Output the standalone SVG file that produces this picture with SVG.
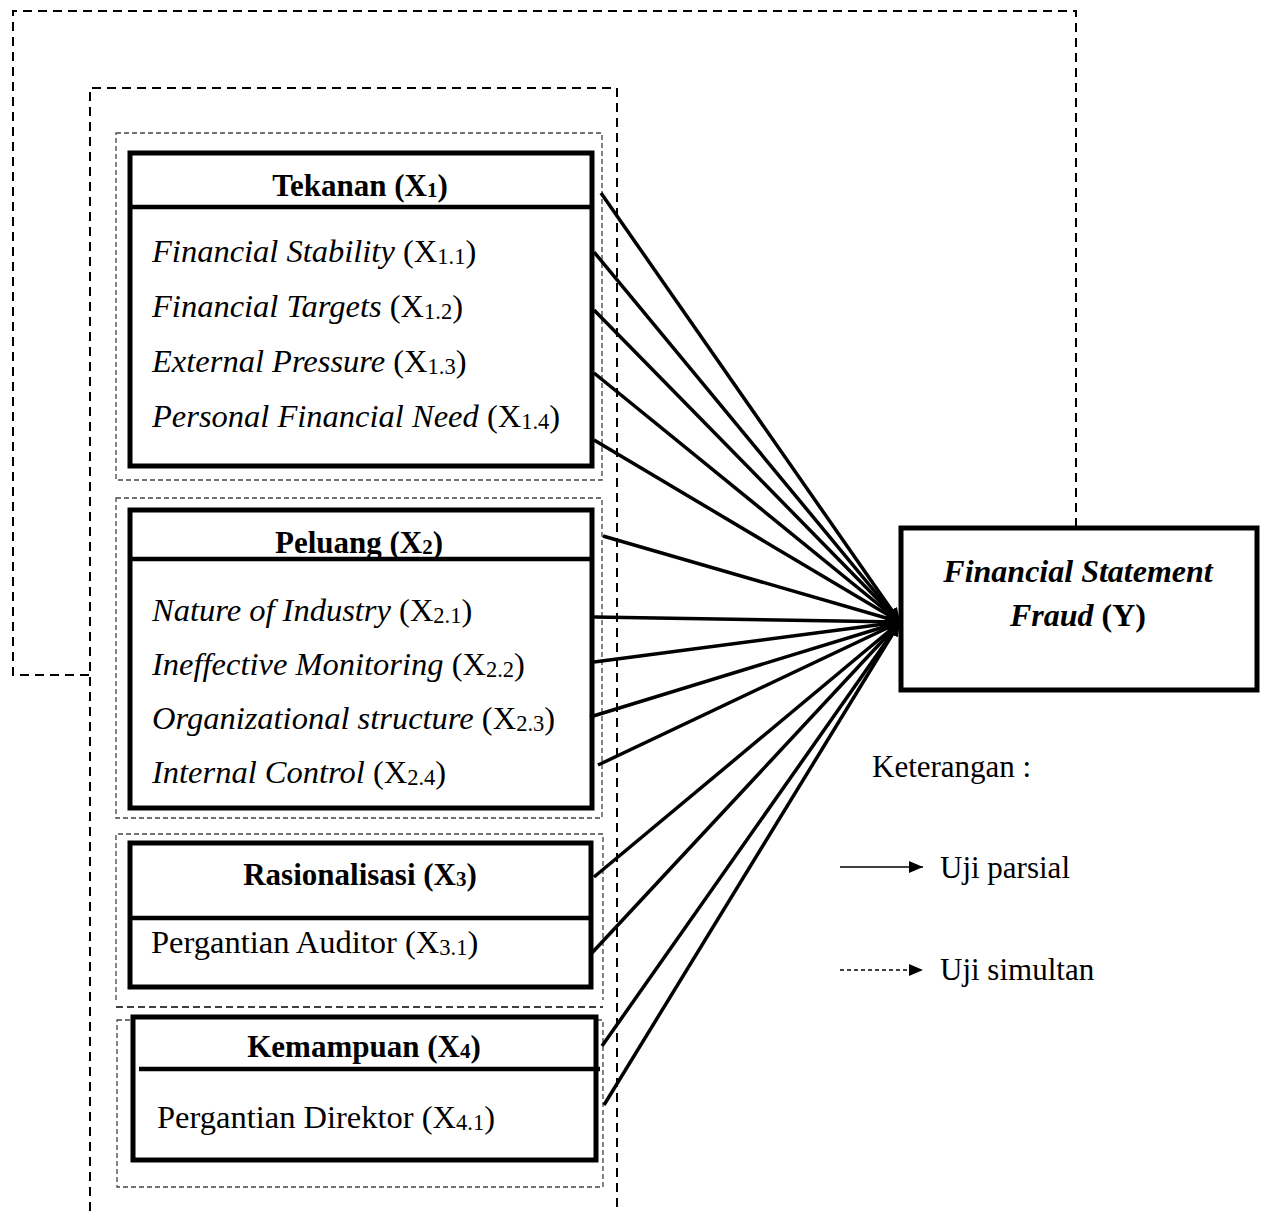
<svg xmlns="http://www.w3.org/2000/svg" width="1264" height="1211" viewBox="0 0 1264 1211">
<defs>
<marker id="ah" viewBox="0 0 14 12" refX="14" refY="6" markerWidth="14" markerHeight="12" markerUnits="userSpaceOnUse" orient="auto">
<path d="M0,0 L14,6 L0,12 Z" fill="#000"/>
</marker>
<marker id="lh" viewBox="0 0 14 12" refX="14" refY="6" markerWidth="14" markerHeight="12" markerUnits="userSpaceOnUse" orient="auto">
<path d="M0,0 L14,6 L0,12 Z" fill="#000"/>
</marker>
</defs>
<style>
.bg{fill:#fff}
.box{fill:#fff;stroke:#000;stroke-width:5}
.div{stroke:#000;stroke-width:4.5}
.dash{fill:none;stroke:#000;stroke-width:2;stroke-dasharray:9 6}
.dot{fill:none;stroke:#444;stroke-width:1.3;stroke-dasharray:5 3}
.conn{stroke:#000;stroke-width:3.5;fill:none}
.t{font-family:"Liberation Serif","Times New Roman",serif;font-size:31px;fill:#000}
.it{font-size:32.5px}
.y{font-size:32px}
.b{font-weight:bold}
.i{font-style:italic}
.c{text-anchor:middle}
.s{font-size:21px}
.it .s{font-size:22.5px}
</style>
<rect class="bg" x="0" y="0" width="1264" height="1211"/>

<g id="simultan-frames">
<path class="dash" d="M1076,527 V11 H13 V675 H90"/>
<path class="dash" d="M90,1211 V88 H617 V1211"/>
<rect class="dot" x="116" y="133" width="486" height="347"/>
<rect class="dot" x="116" y="498" width="486" height="320"/>
<path class="dot" d="M116,1000 V834 H603 V1000"/>
<line class="dash" x1="116" y1="1007" x2="603" y2="1007" style="stroke-width:1.5;stroke-dasharray:7 4"/>
<rect class="dot" x="117" y="1020" width="486" height="167"/>
</g>

<g id="node-x1">
<rect class="box" x="130" y="153" width="462" height="313"/>
<line class="div" x1="130" y1="207" x2="592" y2="207"/>
<text class="t b c" x="360" y="196">Tekanan (X<tspan class="s" dy="1">1</tspan><tspan dy="-1">)</tspan></text>
<text class="t it" x="152" y="262"><tspan class="i">Financial Stability</tspan> (X<tspan class="s" dy="2">1.1</tspan><tspan dy="-2">)</tspan></text>
<text class="t it" x="152" y="317"><tspan class="i">Financial Targets</tspan> (X<tspan class="s" dy="2">1.2</tspan><tspan dy="-2">)</tspan></text>
<text class="t it" x="152" y="372"><tspan class="i">External Pressure</tspan> (X<tspan class="s" dy="2">1.3</tspan><tspan dy="-2">)</tspan></text>
<text class="t it" x="152" y="427"><tspan class="i">Personal Financial Need</tspan> (X<tspan class="s" dy="2">1.4</tspan><tspan dy="-2">)</tspan></text>
</g>

<g id="node-x2">
<rect class="box" x="130" y="510" width="462" height="298"/>
<line class="div" x1="130" y1="559" x2="592" y2="559"/>
<text class="t b c" x="359" y="553">Peluang (X<tspan class="s" dy="1">2</tspan><tspan dy="-1">)</tspan></text>
<text class="t it" x="152" y="621"><tspan class="i">Nature of Industry</tspan> (X<tspan class="s" dy="2">2.1</tspan><tspan dy="-2">)</tspan></text>
<text class="t it" x="152" y="675"><tspan class="i">Ineffective Monitoring</tspan> (X<tspan class="s" dy="2">2.2</tspan><tspan dy="-2">)</tspan></text>
<text class="t it" x="152" y="729"><tspan class="i">Organizational structure</tspan> (X<tspan class="s" dy="2">2.3</tspan><tspan dy="-2">)</tspan></text>
<text class="t it" x="152" y="783"><tspan class="i">Internal Control</tspan> (X<tspan class="s" dy="2">2.4</tspan><tspan dy="-2">)</tspan></text>
</g>

<g id="node-x3">
<rect class="box" x="130" y="843" width="461" height="144"/>
<line class="div" x1="130" y1="918" x2="591" y2="918"/>
<text class="t b c" x="360" y="885">Rasionalisasi (X<tspan class="s" dy="1">3</tspan><tspan dy="-1">)</tspan></text>
<text class="t it" x="151" y="953">Pergantian Auditor (X<tspan class="s" dy="2">3.1</tspan><tspan dy="-2">)</tspan></text>
</g>

<g id="node-x4">
<rect class="box" x="133" y="1017" width="463" height="143"/>
<line class="div" x1="139" y1="1069" x2="600" y2="1069"/>
<text class="t b c" x="364" y="1057">Kemampuan (X<tspan class="s" dy="1">4</tspan><tspan dy="-1">)</tspan></text>
<text class="t it" x="157" y="1128">Pergantian Direktor (X<tspan class="s" dy="2">4.1</tspan><tspan dy="-2">)</tspan></text>
</g>

<g id="node-y">
<rect class="box" x="901" y="528" width="356" height="162"/>
<text class="t y b i c" x="1078" y="582">Financial Statement</text>
<text class="t y b c" x="1078" y="626"><tspan class="i">Fraud</tspan> (Y)</text>
</g>

<g id="connectors">
<line class="conn" x1="601" y1="193" x2="900" y2="622" marker-end="url(#ah)"/>
<line class="conn" x1="594" y1="252" x2="900" y2="622" marker-end="url(#ah)"/>
<line class="conn" x1="594" y1="310" x2="900" y2="622" marker-end="url(#ah)"/>
<line class="conn" x1="594" y1="373" x2="900" y2="622" marker-end="url(#ah)"/>
<line class="conn" x1="594" y1="440" x2="900" y2="622" marker-end="url(#ah)"/>
<line class="conn" x1="603" y1="536" x2="900" y2="622" marker-end="url(#ah)"/>
<line class="conn" x1="594" y1="617" x2="900" y2="622" marker-end="url(#ah)"/>
<line class="conn" x1="594" y1="662" x2="900" y2="622" marker-end="url(#ah)"/>
<line class="conn" x1="590" y1="717" x2="900" y2="622" marker-end="url(#ah)"/>
<line class="conn" x1="598" y1="765" x2="900" y2="622" marker-end="url(#ah)"/>
<line class="conn" x1="594" y1="877" x2="900" y2="622" marker-end="url(#ah)"/>
<line class="conn" x1="590" y1="955" x2="900" y2="622" marker-end="url(#ah)"/>
<line class="conn" x1="602" y1="1046" x2="900" y2="622" marker-end="url(#ah)"/>
<line class="conn" x1="604" y1="1105" x2="900" y2="622" marker-end="url(#ah)"/>
</g>

<g id="legend">
<text class="t" x="872" y="777">Keterangan :</text>
<line x1="840" y1="867" x2="923" y2="867" stroke="#000" stroke-width="1.5" marker-end="url(#lh)"/>
<text class="t" x="940" y="878">Uji parsial</text>
<line x1="840" y1="970" x2="923" y2="970" stroke="#000" stroke-width="1.5" stroke-dasharray="4 3" marker-end="url(#lh)"/>
<text class="t" x="940" y="980">Uji simultan</text>
</g>
</svg>
